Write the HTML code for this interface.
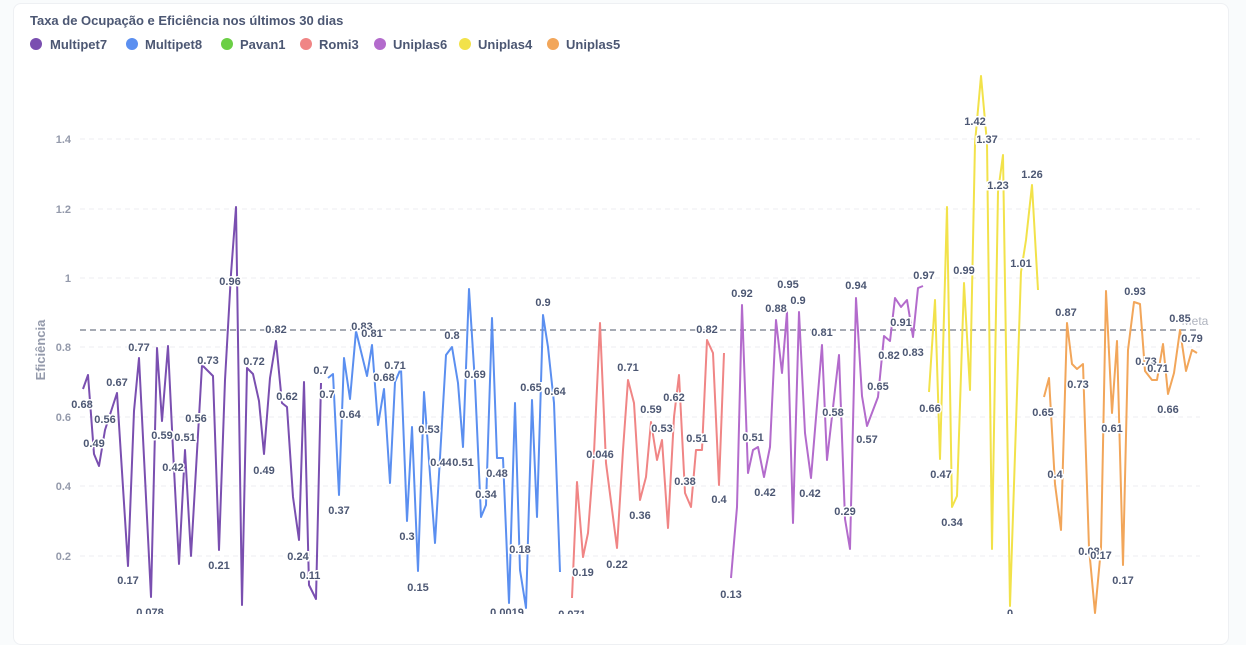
<!DOCTYPE html>
<html><head><meta charset="utf-8">
<style>
html,body{margin:0;padding:0;background:#f9fbfc;width:1246px;height:614px;overflow:hidden}
.card{position:absolute;left:13px;top:3px;width:1214px;height:640px;background:#fff;border:1px solid #eef0f3;border-radius:8px}
svg{position:absolute;left:0;top:0}
text{font-family:"Liberation Sans",sans-serif}
.lb{font-size:11px;font-weight:bold;fill:#4c5773;text-anchor:middle;stroke:#fff;stroke-width:3px;paint-order:stroke}
.tk{font-size:11px;font-weight:bold;fill:#949aab;text-anchor:end}
.lg{font-size:13px;font-weight:bold;fill:#4c5773}
</style></head><body>
<div class="card"></div>
<svg width="1246" height="614" viewBox="0 0 1246 614">
<text x="30" y="25" font-size="13" font-weight="bold" fill="#4c5773">Taxa de Ocupação e Eficiência nos últimos 30 dias</text>
<g>
<circle cx="36" cy="44" r="6" fill="#7a4fb0"/><text class="lg" x="50" y="49">Multipet7</text>
<circle cx="132" cy="44" r="6" fill="#5b8ff0"/><text class="lg" x="145" y="49">Multipet8</text>
<circle cx="227" cy="44" r="6" fill="#6bcf45"/><text class="lg" x="240" y="49">Pavan1</text>
<circle cx="306" cy="44" r="6" fill="#f08585"/><text class="lg" x="319" y="49">Romi3</text>
<circle cx="380" cy="44" r="6" fill="#b36bcc"/><text class="lg" x="393" y="49">Uniplas6</text>
<circle cx="465" cy="44" r="6" fill="#f2e24a"/><text class="lg" x="478" y="49">Uniplas4</text>
<circle cx="553" cy="44" r="6" fill="#f2a65a"/><text class="lg" x="566" y="49">Uniplas5</text>
</g>
<g stroke="#eceef1" stroke-dasharray="5,4" stroke-width="1">
<line x1="80" x2="1200" y1="139" y2="139"/><line x1="80" x2="1200" y1="209" y2="209"/>
<line x1="80" x2="1200" y1="278" y2="278"/><line x1="80" x2="1200" y1="347" y2="347"/>
<line x1="80" x2="1200" y1="417" y2="417"/><line x1="80" x2="1200" y1="486" y2="486"/>
<line x1="80" x2="1200" y1="556" y2="556"/>
</g>
<text class="tk" x="71" y="143">1.4</text><text class="tk" x="71" y="213">1.2</text>
<text class="tk" x="71" y="282">1</text><text class="tk" x="71" y="351">0.8</text>
<text class="tk" x="71" y="421">0.6</text><text class="tk" x="71" y="490">0.4</text>
<text class="tk" x="71" y="560">0.2</text>
<text transform="translate(45,350) rotate(-90)" font-size="13" font-weight="bold" fill="#949aab" text-anchor="middle">Eficiência</text>
<line x1="80" x2="1200" y1="330" y2="330" stroke="#8a8f9c" stroke-width="1.5" stroke-dasharray="6,4"/>
<g fill="none" stroke-width="2" stroke-linejoin="round">
<polyline stroke="#7a4fb0" points="83,389 88,375 94,454 99,466 105,430 117,393 128,566 134,411 139,358 151,597 157,348 162,421 168,346 173,450 179,564 185,450 191,556 202,365 213,376 219,550 225,380 231,274 236,207 242,605 247,368 253,374 259,401 264,454 270,378 276,341 282,403 287,407 293,497 299,540 304,382 309,585 316,599 321,383"/>
<polyline stroke="#5b8ff0" points="328,378 333,374 339,495 344,358 350,399 356,331 367,376 372,345 378,425 384,389 390,483 395,382 401,368 407,521 412,427 418,571 424,392 435,543 446,355 452,347 458,383 463,447 469,289 475,383 481,517 486,505 492,318 497,458 503,458 509,603 515,403 520,570 526,608 532,400 537,517 543,315 548,347 554,403 560,572"/>
<polyline stroke="#f08585" points="572,598 577,482 583,557 588,533 594,453 600,323 606,463 617,548 623,450 628,380 634,403 640,500 646,477 651,422 657,460 662,440 668,528 674,417 679,375 685,493 691,507 696,450 702,450 707,340 713,353 719,485 724,353"/>
<polyline stroke="#b36bcc" points="731,578 737,507 742,305 748,473 753,450 758,447 764,477 770,447 776,320 782,373 787,312 793,523 799,312 805,433 811,478 822,345 827,460 839,355 845,519 850,549 856,298 862,396 867,426 878,397 884,336 890,341 895,298 901,307 907,300 913,337 918,288 923,286"/>
<polyline stroke="#f2e24a" points="929,392 935,300 940,459 947,207 952,507 957,496 964,283 970,390 975,143 981,76 987,143 992,549 998,192 1003,155 1010,606 1021,272 1026,240 1032,185 1038,290"/>
<polyline stroke="#f2a65a" points="1044,397 1049,378 1055,484 1061,530 1067,323 1072,364 1077,369 1083,364 1089,548 1095,613 1101,548 1106,291 1112,413 1117,341 1123,565 1128,350 1134,302 1140,304 1145,371 1152,380 1157,380 1163,344 1168,394 1174,373 1180,330 1186,371 1192,350 1197,353"/>
</g>
<text x="1195" y="325" font-size="12" fill="#b0b4bf" text-anchor="middle">Meta</text>
<g class="lbs">
<text class="lb" x="82" y="408">0.68</text><text class="lb" x="105" y="423">0.56</text><text class="lb" x="94" y="447">0.49</text><text class="lb" x="117" y="386">0.67</text><text class="lb" x="128" y="584">0.17</text><text class="lb" x="150" y="616">0.078</text><text class="lb" x="139" y="351">0.77</text><text class="lb" x="162" y="439">0.59</text><text class="lb" x="185" y="441">0.51</text><text class="lb" x="173" y="471">0.42</text><text class="lb" x="196" y="422">0.56</text><text class="lb" x="208" y="364">0.73</text><text class="lb" x="219" y="569">0.21</text><text class="lb" x="230" y="285">0.96</text><text class="lb" x="254" y="365">0.72</text><text class="lb" x="264" y="474">0.49</text><text class="lb" x="276" y="333">0.82</text><text class="lb" x="287" y="400">0.62</text><text class="lb" x="298" y="560">0.24</text><text class="lb" x="310" y="579">0.11</text><text class="lb" x="321" y="374">0.7</text><text class="lb" x="327" y="398">0.7</text><text class="lb" x="339" y="514">0.37</text><text class="lb" x="350" y="418">0.64</text><text class="lb" x="362" y="330">0.83</text><text class="lb" x="372" y="337">0.81</text><text class="lb" x="384" y="381">0.68</text><text class="lb" x="395" y="369">0.71</text><text class="lb" x="407" y="540">0.3</text><text class="lb" x="418" y="591">0.15</text><text class="lb" x="429" y="433">0.53</text><text class="lb" x="441" y="466">0.44</text><text class="lb" x="463" y="466">0.51</text><text class="lb" x="452" y="339">0.8</text><text class="lb" x="475" y="378">0.69</text><text class="lb" x="497" y="477">0.48</text><text class="lb" x="486" y="498">0.34</text><text class="lb" x="520" y="553">0.18</text><text class="lb" x="507" y="616">0.0019</text><text class="lb" x="543" y="306">0.9</text><text class="lb" x="531" y="391">0.65</text><text class="lb" x="555" y="395">0.64</text><text class="lb" x="572" y="618">0.071</text><text class="lb" x="583" y="576">0.19</text><text class="lb" x="600" y="458">0.046</text><text class="lb" x="617" y="568">0.22</text><text class="lb" x="628" y="371">0.71</text><text class="lb" x="640" y="519">0.36</text><text class="lb" x="651" y="413">0.59</text><text class="lb" x="662" y="432">0.53</text><text class="lb" x="674" y="401">0.62</text><text class="lb" x="685" y="485">0.38</text><text class="lb" x="697" y="442">0.51</text><text class="lb" x="707" y="333">0.82</text><text class="lb" x="719" y="503">0.4</text><text class="lb" x="731" y="598">0.13</text><text class="lb" x="742" y="297">0.92</text><text class="lb" x="753" y="441">0.51</text><text class="lb" x="765" y="496">0.42</text><text class="lb" x="776" y="312">0.88</text><text class="lb" x="788" y="288">0.95</text><text class="lb" x="798" y="304">0.9</text><text class="lb" x="810" y="497">0.42</text><text class="lb" x="822" y="336">0.81</text><text class="lb" x="833" y="416">0.58</text><text class="lb" x="845" y="515">0.29</text><text class="lb" x="856" y="289">0.94</text><text class="lb" x="867" y="443">0.57</text><text class="lb" x="878" y="390">0.65</text><text class="lb" x="889" y="359">0.82</text><text class="lb" x="913" y="356">0.83</text><text class="lb" x="901" y="326">0.91</text><text class="lb" x="924" y="279">0.97</text><text class="lb" x="930" y="412">0.66</text><text class="lb" x="941" y="478">0.47</text><text class="lb" x="952" y="526">0.34</text><text class="lb" x="964" y="274">0.99</text><text class="lb" x="975" y="125">1.42</text><text class="lb" x="987" y="143">1.37</text><text class="lb" x="998" y="189">1.23</text><text class="lb" x="1010" y="617">0</text><text class="lb" x="1021" y="267">1.01</text><text class="lb" x="1032" y="178">1.26</text><text class="lb" x="1043" y="416">0.65</text><text class="lb" x="1055" y="478">0.4</text><text class="lb" x="1066" y="316">0.87</text><text class="lb" x="1078" y="388">0.73</text><text class="lb" x="1089" y="555">0.08</text><text class="lb" x="1101" y="559">0.17</text><text class="lb" x="1112" y="432">0.61</text><text class="lb" x="1123" y="584">0.17</text><text class="lb" x="1135" y="295">0.93</text><text class="lb" x="1146" y="365">0.73</text><text class="lb" x="1158" y="372">0.71</text><text class="lb" x="1168" y="413">0.66</text><text class="lb" x="1180" y="322">0.85</text><text class="lb" x="1192" y="342">0.79</text>
</g>
</svg>
</body></html>
